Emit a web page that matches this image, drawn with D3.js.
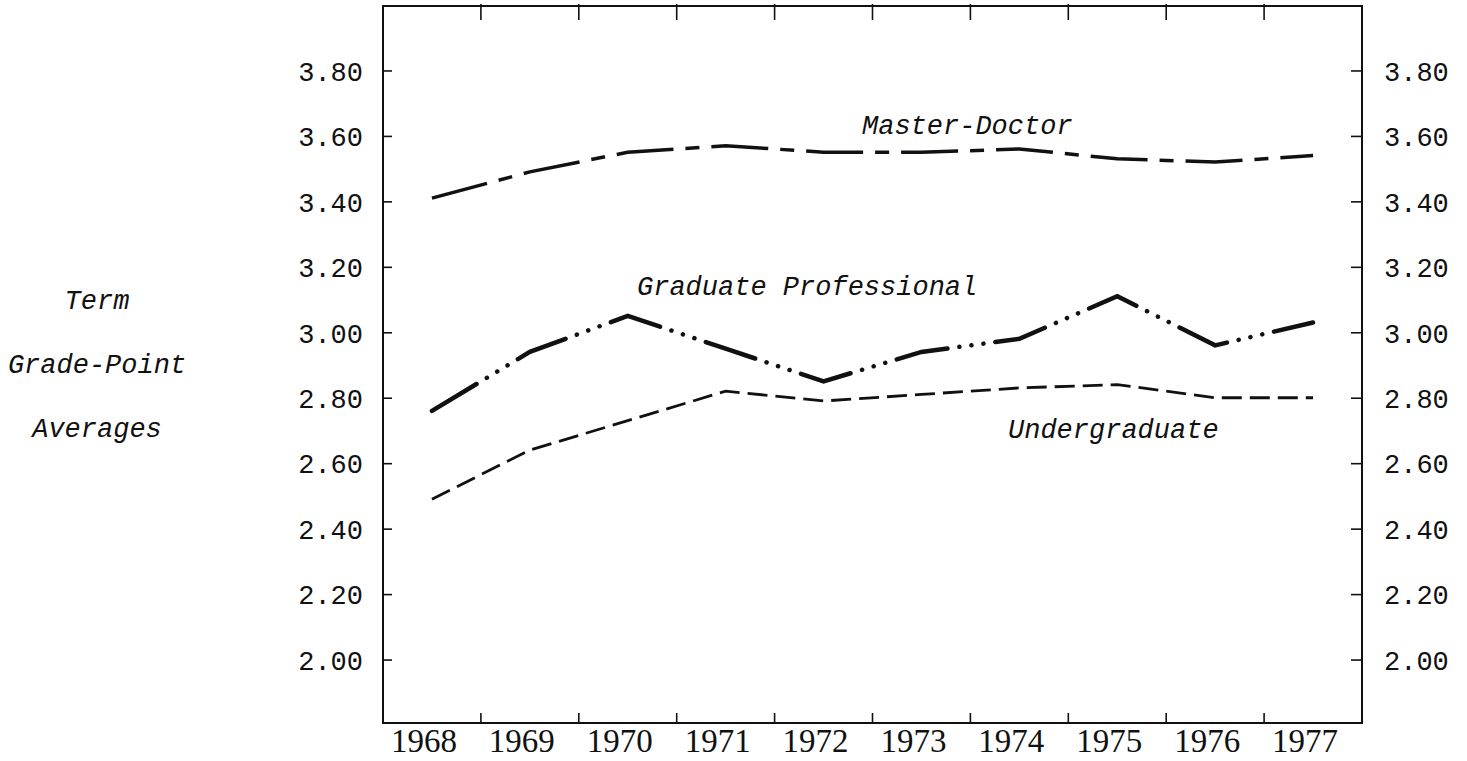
<!DOCTYPE html>
<html>
<head>
<meta charset="utf-8">
<script src="https://cdn.jsdelivr.net/npm/d3@7"></script>
<style>
  html, body { margin: 0; padding: 0; background: #fff; }
  svg { display: block; }
</style>
</head>
<body>
<div class="chart"></div>
<script>
const years = [1968, 1969, 1970, 1971, 1972, 1973, 1974, 1975, 1976, 1977];
const masterDoctor = [3.41, 3.49, 3.55, 3.57, 3.55, 3.55, 3.56, 3.53, 3.52, 3.54];
const gradProfessional = [2.76, 2.94, 3.05, 2.95, 2.85, 2.94, 2.98, 3.11, 2.96, 3.03];
const undergraduate = [2.49, 2.64, 2.73, 2.82, 2.79, 2.81, 2.83, 2.84, 2.80, 2.80];
const yTicks = [2.00, 2.20, 2.40, 2.60, 2.80, 3.00, 3.20, 3.40, 3.60, 3.80];
const axisTitle = ['Term', 'Grade-Point', 'Averages'];

function drawChart() {
  const w = 1467;
  const h = 761;
  const frame = { left: 383, right: 1362, top: 6, bottom: 723 };
  const ink = '#111';
  const mono = '"Liberation Mono", "DejaVu Sans Mono", monospace';

  const svg = d3.select('.chart')
    .append('svg')
    .attr('width', w)
    .attr('height', h)
    .attr('viewBox', `0 0 ${w} ${h}`);

  svg.append('rect')
    .attr('width', w)
    .attr('height', h)
    .attr('fill', '#fff');

  const x = d3.scaleBand()
    .domain(years)
    .range([frame.left, frame.right]);
  const y = d3.scaleLinear()
    .domain([1.8, 4.0])
    .range([725, 5]);
  const mid = d => x(d) + x.bandwidth() / 2;

  // left and right value axes, ticks pointing inward
  const left = svg.append('g')
    .attr('transform', `translate(${frame.left}, 0)`)
    .call(d3.axisLeft(y).tickValues(yTicks).tickSize(-9).tickPadding(20).tickFormat(d3.format('.2f')));
  const right = svg.append('g')
    .attr('transform', `translate(${frame.right}, 0)`)
    .call(d3.axisRight(y).tickValues(yTicks).tickSize(-11).tickPadding(22).tickFormat(d3.format('.2f')));

  [left, right].forEach(g => {
    g.select('.domain').remove();
    g.selectAll('line').attr('stroke', ink).attr('stroke-width', 1.6);
    g.selectAll('text')
      .attr('font-family', mono)
      .attr('font-size', 27)
      .attr('fill', ink)
      .attr('dy', '0.36em');
  });

  // year axis, labels centred in each band
  const bottom = svg.append('g')
    .attr('transform', `translate(0, ${frame.bottom})`)
    .call(d3.axisBottom(x).tickSize(0).tickPadding(0));
  bottom.select('.domain').remove();
  bottom.selectAll('text')
    .attr('font-family', '"Liberation Serif", "DejaVu Serif", serif')
    .attr('font-size', 33)
    .attr('fill', ink)
    .attr('y', 29)
    .attr('dy', 0)
    .attr('dx', -8)
    .attr('textLength', 66)
    .attr('lengthAdjust', 'spacingAndGlyphs');

  // ticks between years, top and bottom
  const bounds = years.slice(1);
  svg.append('g')
    .selectAll('line')
    .data(bounds)
    .enter()
    .append('line')
    .attr('x1', d => x(d))
    .attr('x2', d => x(d))
    .attr('y1', frame.bottom)
    .attr('y2', frame.bottom - 10)
    .attr('stroke', ink)
    .attr('stroke-width', 1.6);
  svg.append('g')
    .selectAll('line')
    .data(bounds)
    .enter()
    .append('line')
    .attr('x1', d => x(d))
    .attr('x2', d => x(d))
    .attr('y1', frame.top - 2)
    .attr('y2', frame.top + 14)
    .attr('stroke', ink)
    .attr('stroke-width', 1.6);

  svg.append('rect')
    .attr('x', frame.left)
    .attr('y', frame.top)
    .attr('width', frame.right - frame.left)
    .attr('height', frame.bottom - frame.top)
    .attr('fill', 'none')
    .attr('stroke', ink)
    .attr('stroke-width', 2);

  const line = d3.line()
    .x((d, i) => mid(years[i]))
    .y(d => y(d));

  svg.append('path')
    .datum(undergraduate)
    .attr('d', line)
    .attr('fill', 'none')
    .attr('stroke', ink)
    .attr('stroke-width', 2.8)
    .attr('stroke-dasharray', '20,8');

  svg.append('path')
    .datum(gradProfessional)
    .attr('d', line)
    .attr('fill', 'none')
    .attr('stroke', ink)
    .attr('stroke-width', 4.5)
    .attr('stroke-linecap', 'round')
    .attr('stroke-dasharray', '52,12,0.1,12,0.1,12,0.1,12');

  svg.append('path')
    .datum(masterDoctor)
    .attr('d', line)
    .attr('fill', 'none')
    .attr('stroke', ink)
    .attr('stroke-width', 3.5)
    .attr('stroke-dasharray', '57,12,14,12');

  const italic = g => g
    .attr('font-family', mono)
    .attr('font-style', 'italic')
    .attr('font-size', 27)
    .attr('fill', ink);

  svg.append('text').text('Master-Doctor').attr('x', 862).attr('y', 134).call(italic);
  svg.append('text').text('Graduate Professional').attr('x', 637).attr('y', 295).call(italic);
  svg.append('text').text('Undergraduate').attr('x', 1008).attr('y', 438).call(italic);

  svg.append('g')
    .selectAll('text')
    .data(axisTitle)
    .enter()
    .append('text')
    .text(d => d)
    .attr('x', 97)
    .attr('y', (d, i) => 309 + i * 64)
    .attr('text-anchor', 'middle')
    .call(italic);
}

drawChart();
</script>
</body>
</html>
